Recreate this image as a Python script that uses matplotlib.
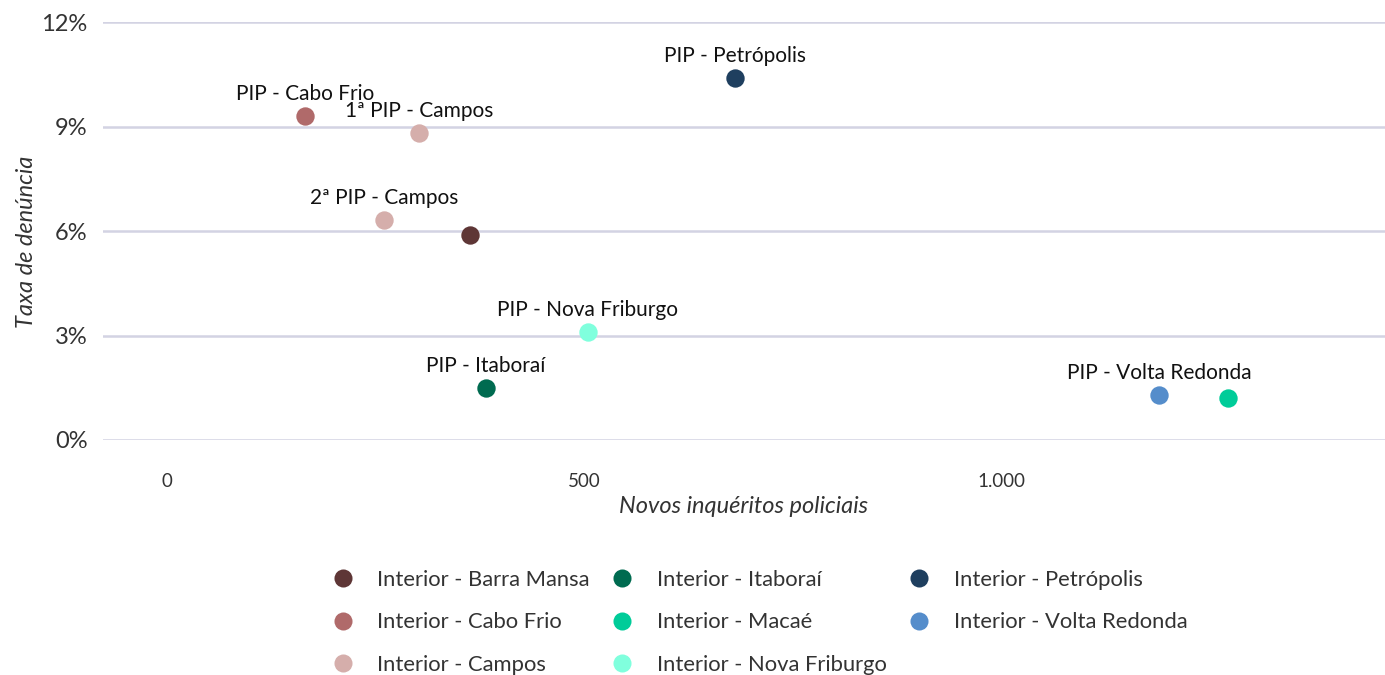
import matplotlib
matplotlib.use("Agg")
import matplotlib.pyplot as plt
from matplotlib.lines import Line2D
from matplotlib.ticker import FuncFormatter

plt.rcParams['font.family'] = ['Lato', 'DejaVu Sans']

# Data
series = ["Interior - Barra Mansa", "Interior - Cabo Frio", "Interior - Campos",
          "Interior - Itaboraí", "Interior - Macaé", "Interior - Nova Friburgo",
          "Interior - Petrópolis", "Interior - Volta Redonda"]
colors = ["#5e3636", "#b06a6a", "#d5aeab", "#006b50", "#00cc99", "#80ffdd",
          "#1f3f5f", "#558dcb"]

point_series = ["Interior - Cabo Frio", "Interior - Campos", "Interior - Campos",
                "Interior - Barra Mansa", "Interior - Petrópolis",
                "Interior - Nova Friburgo", "Interior - Itaboraí",
                "Interior - Volta Redonda", "Interior - Macaé"]
point_labels = ["PIP - Cabo Frio", "1ª PIP - Campos", "2ª PIP - Campos", "",
                "PIP - Petrópolis", "PIP - Nova Friburgo", "PIP - Itaboraí",
                "PIP - Volta Redonda", ""]
inqueritos = [165, 302, 260, 363, 681, 504, 382, 1189, 1272]
taxa = [9.30, 8.81, 6.32, 5.89, 10.39, 3.10, 1.49, 1.29, 1.21]

x_ticks = [0, 500, 1000]
x_ticklabels = ["0", "500", "1.000"]
y_ticks = [0, 3, 6, 9, 12]

W, H = 1385, 675
fig = plt.figure(figsize=(W / 100, H / 100), dpi=100)
ax = fig.add_axes([103 / W, 1 - 440 / H, (1385 - 103) / W, (440 - 22) / H])

cmap = dict(zip(series, colors))
for xv, yv, s, lab in zip(inqueritos, taxa, point_series, point_labels):
    ax.scatter([xv], [yv], s=175, color=cmap[s], zorder=3, clip_on=False, linewidths=0)
    if lab:
        ax.annotate(lab, (xv, yv), xytext=(0, 16), textcoords="offset points",
                    ha="center", va="center", fontsize=15, color="#111111", zorder=4)

ax.set_xlim(-77, 1460)
ax.set_ylim(0, 12)
ax.set_xticks(x_ticks)
ax.set_xticklabels(x_ticklabels)
ax.set_yticks(y_ticks)
ax.yaxis.set_major_formatter(FuncFormatter(lambda v, p: f"{v:.0f}%"))
ax.grid(axis="y", color="#d3d3e3", linewidth=1.8)
ax.set_axisbelow(True)
for sp in ax.spines.values():
    sp.set_visible(False)
ax.tick_params(axis="y", length=0, pad=11, labelsize=17, labelcolor="#333333")
ax.tick_params(axis="x", length=0, pad=24, labelsize=13.5, labelcolor="#333333")

ax.set_xlabel("Novos inquéritos policiais", fontsize=17, style="italic", color="#333333", labelpad=4)
ax.set_ylabel("Taxa de denúncia", fontsize=17, style="italic", color="#333333", labelpad=3.5)
ax.yaxis.label.set_y(0.474)

handles = [Line2D([0], [0], marker="o", linestyle="", markersize=13,
                  markerfacecolor=c, markeredgewidth=0) for c in colors]
fig.legend(handles, series, ncol=3, loc="upper left",
           bbox_to_anchor=(323 / W, 1 - 561 / H), frameon=False, fontsize=15.8,
           labelcolor="#333333", handletextpad=1.06, columnspacing=1.0,
           labelspacing=1.03, handlelength=1.0, borderaxespad=0)

fig.savefig("out.png", dpi=100, facecolor="white")
